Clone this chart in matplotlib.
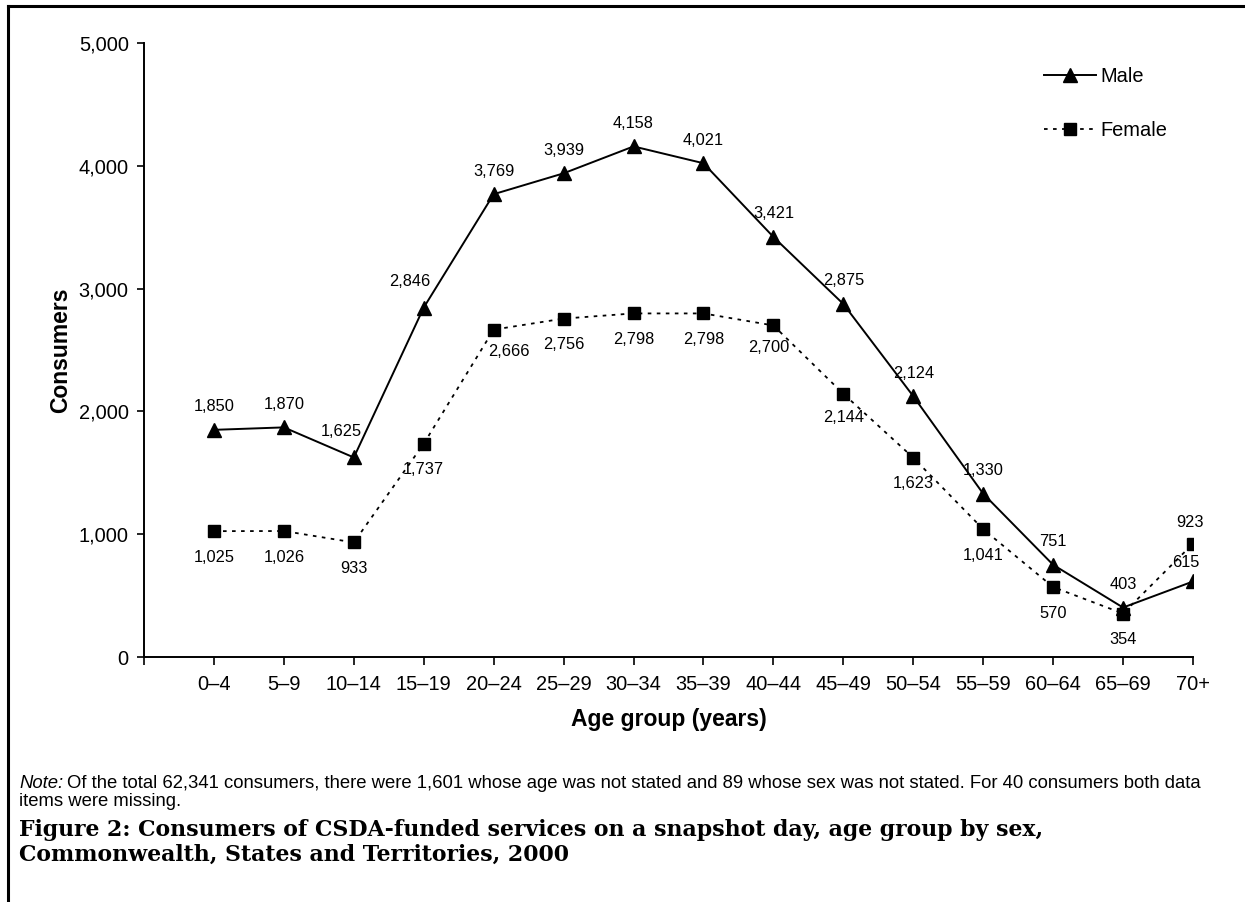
import numpy as np
import matplotlib.pyplot as plt
from matplotlib.lines import Line2D

plt.rcParams['font.family'] = ['Liberation Sans', 'DejaVu Sans']

ages = ['0–4', '5–9', '10–14', '15–19', '20–24', '25–29', '30–34', '35–39',
        '40–44', '45–49', '50–54', '55–59', '60–64', '65–69', '70+']
male = [1850, 1870, 1625, 2846, 3769, 3939, 4158, 4021, 3421, 2875, 2124,
        1330, 751, 403, 615]
female = [1025, 1026, 933, 1737, 2666, 2756, 2798, 2798, 2700, 2144, 1623,
          1041, 570, 354, 923]

# label offsets in pixels (dx, dy)
male_off = [(0, 23)] * 15
male_off[2] = (-13, 26)
male_off[3] = (-14, 26)
male_off[14] = (-7, 19)
female_off = [(0, -26)] * 15
female_off[4] = (15, -22)
female_off[8] = (-5, -22)
female_off[9] = (0, -24)
female_off[14] = (-3, 21)

fig = plt.figure(figsize=(12.45, 9.02), dpi=100)
ax = fig.add_axes([0.1157, 0.2716, 0.8425, 0.6807])

x = np.arange(len(ages))
ax.plot(x, male, color='black', lw=1.4, marker='^', ms=10, label='Male', zorder=3)
ax.plot(x, female, color='black', lw=1.3, ls=(0, (2, 3)), marker='s', ms=8,
        label='Female', zorder=4)

for i in range(len(ages)):
    ax.annotate(f'{male[i]:,}', (x[i], male[i]), xytext=male_off[i],
                textcoords='offset pixels', ha='center', va='center', fontsize=11.8)
    ax.annotate(f'{female[i]:,}', (x[i], female[i]), xytext=female_off[i],
                textcoords='offset pixels', ha='center', va='center', fontsize=11.8)

ax.set_xlim(-1, 14)
ax.set_ylim(0, 5000)
ax.set_yticks(np.arange(0, 5001, 1000))
ax.set_yticklabels([f'{v:,}' for v in range(0, 5001, 1000)], fontsize=14.4)
ax.set_xticks(np.arange(-1, 15))
ax.set_xticklabels([''] + ages, fontsize=14.4)
ax.tick_params(axis='x', length=6, width=1.2, pad=7)
ax.tick_params(axis='y', length=5, width=1.2, pad=6)
for s in ['top', 'right']:
    ax.spines[s].set_visible(False)
for s in ['left', 'bottom']:
    ax.spines[s].set_linewidth(1.4)

ax.set_ylabel('Consumers', fontsize=16.5, fontweight='bold', labelpad=5)
ax.set_xlabel('Age group (years)', fontsize=16.5, fontweight='bold', labelpad=10)

ax.legend(loc='upper left', bbox_to_anchor=(0.841, 0.991), frameon=False,
          fontsize=14.4, handlelength=2.6, handletextpad=0.2, labelspacing=1.75)

note_y = 1 - 783 / 902
nt = fig.text(0.0153, note_y, 'Note:', fontsize=13.3, style='italic', va='center')
fig.canvas.draw()
bb = nt.get_window_extent()
fig.text(bb.x1 / fig.bbox.width + 0.003, note_y,
         'Of the total 62,341 consumers, there were 1,601 whose age was not stated and 89 whose sex was not stated. For 40 consumers both data',
         fontsize=13.3, va='center')
fig.text(0.0153, 1 - 802 / 902, 'items were missing.', fontsize=13.3, va='center')
fig.text(0.0153, 1 - 830 / 902,
         'Figure 2: Consumers of CSDA-funded services on a snapshot day, age group by sex,',
         fontsize=15.8, fontweight='bold', family='DejaVu Serif', va='center')
fig.text(0.0153, 1 - 855 / 902,
         'Commonwealth, States and Territories, 2000',
         fontsize=15.8, fontweight='bold', family='DejaVu Serif', va='center')

# frame
fig.add_artist(Line2D([8 / 1245, 1], [1 - 6 / 902] * 2, color='black', lw=2.2,
                      transform=fig.transFigure))
fig.add_artist(Line2D([8 / 1245] * 2, [0, 1 - 6 / 902], color='black', lw=2.2,
                      transform=fig.transFigure))

fig.savefig('out.png', dpi=100)
